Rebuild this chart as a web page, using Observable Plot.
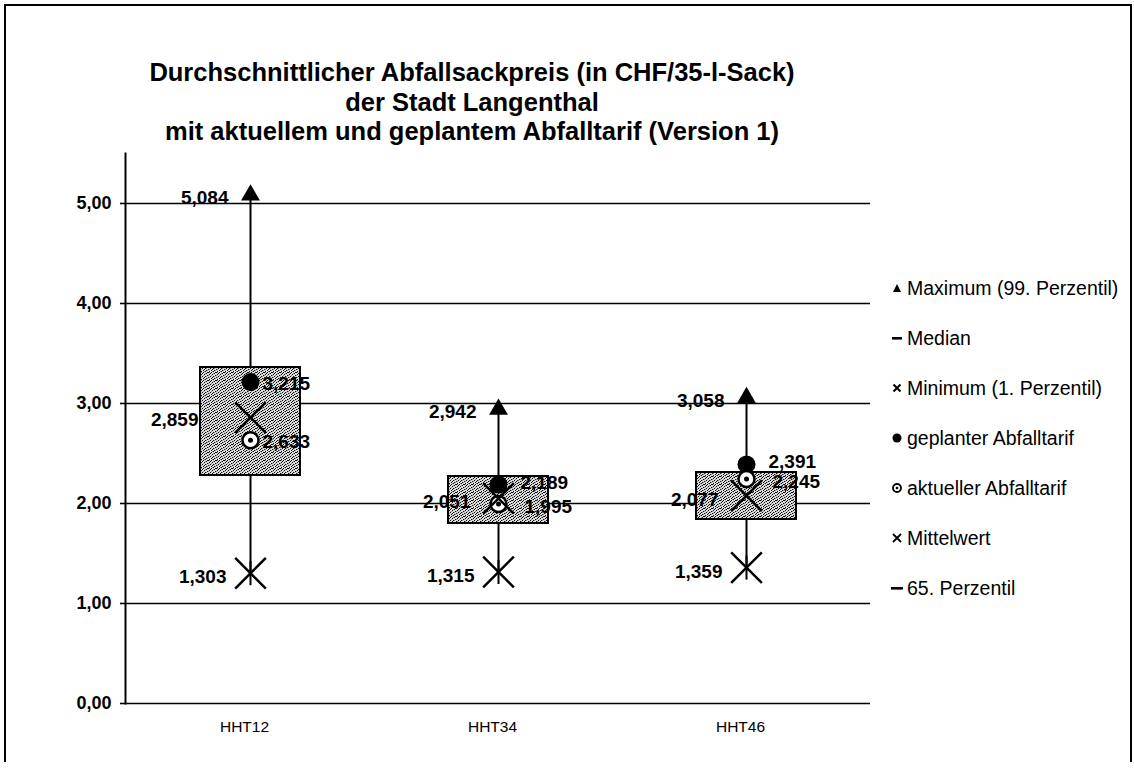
<!DOCTYPE html>
<html><head><meta charset="utf-8">
<script src="https://cdn.jsdelivr.net/npm/d3@7"></script>
<script src="https://cdn.jsdelivr.net/npm/@observablehq/plot@0.6"></script>
<style>
body{margin:0;background:#fff;}
#wrap{position:relative;width:1134px;height:771px;overflow:hidden;font-family:"Liberation Sans",Arial,sans-serif;color:#000;background:#fff;}
#frame{position:absolute;left:4px;top:4px;width:1128px;height:758px;border:2px solid #000;border-bottom:none;box-sizing:border-box;}
#title{position:absolute;left:0;top:58px;width:944px;text-align:center;font-weight:bold;font-size:25.5px;line-height:29.5px;}
#chart{position:absolute;left:0;top:140px;}
#legend{position:absolute;left:891px;top:263px;font-size:19.5px;}
.row{height:50px;display:flex;align-items:center;white-space:nowrap;}
.row svg{width:12px;height:14px;margin-right:4px;flex:none;}
</style></head><body>
<div id="wrap">
  <div id="frame"></div>
  <div id="title"></div>
  <div id="chart"></div>
  <div id="legend"></div>
</div>
<script>
// ---- data ----
const titleLines = [
  "Durchschnittlicher Abfallsackpreis (in CHF/35-l-Sack)",
  "der Stadt Langenthal",
  "mit aktuellem und geplantem Abfalltarif (Version 1)"
];
const categories = ["HHT12", "HHT34", "HHT46"];
const maximum = [5.084, 2.942, 3.058];   // 99. Perzentil
const minimum = [1.303, 1.315, 1.359];   // 1. Perzentil
const mean    = [2.859, 2.051, 2.077];   // Mittelwert
const planned = [3.215, 2.189, 2.391];   // geplanter Abfalltarif
const current = [2.633, 1.995, 2.245];   // aktueller Abfalltarif
const median  = [2.28, 1.80, 1.84];      // Median (box bottom)
const p65     = [3.36, 2.27, 2.31];      // 65. Perzentil (box top)
const yTicks  = [0, 1, 2, 3, 4, 5];
const legendItems = [
  {key: "max", label: "Maximum (99. Perzentil)"},
  {key: "median", label: "Median"},
  {key: "min", label: "Minimum (1. Perzentil)"},
  {key: "planned", label: "geplanter Abfalltarif"},
  {key: "current", label: "aktueller Abfalltarif"},
  {key: "mean", label: "Mittelwert"},
  {key: "p65", label: "65. Perzentil"}
];

// ---- table ----
const rows = categories.map((cat, i) => ({
  cat, max: maximum[i], min: minimum[i], mean: mean[i],
  planned: planned[i], current: current[i], median: median[i], p65: p65[i]
}));
const fmt = v => v.toFixed(3).replace(".", ",");
const first = d => d.cat === categories[0];
const notFirst = d => d.cat !== categories[0];

const vline = {draw(ctx, size) { const r = Math.sqrt(size / Math.PI); ctx.moveTo(0, -r); ctx.lineTo(0, r); }};

const lab = (key, opts) => Plot.text(rows, {
  x: "cat", y: key, text: d => fmt(d[key]),
  fontWeight: "bold", fontSize: 19, fill: "#000", ...opts
});

document.getElementById("title").innerHTML = titleLines.map(t => `<div>${t}</div>`).join("");

const chart = Plot.plot({
  width: 1134,
  height: 631,
  marginLeft: 125,
  marginRight: 264,
  marginTop: 13,
  marginBottom: 68,
  style: {fontFamily: "'Liberation Sans', Arial, sans-serif", color: "#000", background: "transparent", overflow: "visible"},
  x: {domain: categories, padding: 0},
  y: {domain: [0, 5.5]},
  marks: [
    Plot.ruleY(yTicks, {stroke: "#000", strokeWidth: 1.6}),
    Plot.frame({anchor: "left", stroke: "#000", strokeWidth: 2}),
    Plot.axisY({ticks: yTicks, tickFormat: d => d.toFixed(2).replace(".", ","), tickSize: 5, tickPadding: 9,
      fontSize: 18, fontWeight: "bold", label: null, strokeWidth: 1.6}),
    Plot.axisX({tickSize: 0, tickPadding: 17, fontSize: 15.5, label: null, dx: -6}),
    Plot.ruleX(rows, {x: "cat", y1: "min", y2: "max", stroke: "#000", strokeWidth: 2}),
    Plot.barY(rows, {x: "cat", y1: "median", y2: "p65", fill: "url(#stipple)", stroke: "#000", strokeWidth: 2, insetLeft: 74, insetRight: 74}),
    Plot.dot(rows, {x: "cat", y: "max", symbol: "triangle", r: 7, fill: "#000", stroke: "none"}),
    Plot.dot(rows, {x: "cat", y: "min", symbol: "times", r: 14, stroke: "#000", strokeWidth: 2.5}),
    Plot.dot(rows, {x: "cat", y: "min", symbol: vline, r: 12, stroke: "#000", strokeWidth: 2}),
    Plot.dot(rows, {x: "cat", y: "planned", r: 9, fill: "#000", stroke: "none"}),
    Plot.dot(rows, {x: "cat", y: "current", r: 8, fill: "#fff", stroke: "#000", strokeWidth: 2.5}),
    Plot.dot(rows, {x: "cat", y: "current", r: 2.5, fill: "#000", stroke: "none"}),
    Plot.dot(rows, {x: "cat", y: "mean", symbol: "times", r: 14, stroke: "#000", strokeWidth: 2.5}),
    lab("max", {textAnchor: "end", dx: -22, dy: 3}),
    lab("min", {textAnchor: "end", dx: -24, dy: 4}),
    lab("mean", {filter: first, textAnchor: "end", dx: -52, dy: 2}),
    lab("mean", {filter: notFirst, textAnchor: "end", dx: -28, dy: 4}),
    lab("planned", {filter: first, textAnchor: "start", dx: 12, dy: 2}),
    lab("planned", {filter: notFirst, textAnchor: "start", dx: 22, dy: -2}),
    lab("current", {filter: first, textAnchor: "start", dx: 12, dy: 2}),
    lab("current", {filter: notFirst, textAnchor: "start", dx: 26, dy: 3})
  ]
});

// stippled texture for the boxes
const dots = [[0,0],[3,0],[6,1],[1,2],[4,2],[7,3],[2,4],[5,4],[0,5],[4,5],[3,6],[6,6],[1,7],[5,7],[7,0],[2,1]];
const greys = [[1,0],[5,1],[3,3],[6,4],[1,5],[7,6],[4,7],[0,3]];
d3.select(chart).insert("defs", ":first-child").html(
  `<pattern id="stipple" patternUnits="userSpaceOnUse" width="8" height="8">
     <rect width="8" height="8" fill="#dadada"/>
     ${dots.map(([x, y]) => `<rect x="${x}" y="${y}" width="1" height="1" fill="#111"/>`).join("")}
     ${greys.map(([x, y]) => `<rect x="${x}" y="${y}" width="1" height="1" fill="#888"/>`).join("")}
   </pattern>`
);
document.getElementById("chart").append(chart);

// legend
const markerSvg = {
  max: `<polygon points="6,3 10,11 2,11" fill="#000"/>`,
  median: `<rect x="1" y="6" width="10" height="2.6" fill="#000"/>`,
  min: `<path d="M2.5,3.5L9.5,10.5M9.5,3.5L2.5,10.5" stroke="#000" stroke-width="2"/>`,
  planned: `<circle cx="6" cy="7" r="4.5" fill="#000"/>`,
  current: `<circle cx="6" cy="7" r="4" fill="#fff" stroke="#000" stroke-width="1.8"/><circle cx="6" cy="7" r="1.3" fill="#000"/>`,
  mean: `<path d="M2,3L10,11M10,3L2,11" stroke="#000" stroke-width="1.8"/>`,
  p65: `<rect x="0" y="6" width="12" height="2.6" fill="#000"/>`
};
d3.select("#legend").selectAll("div").data(legendItems).join("div")
  .attr("class", "row")
  .html(d => `<svg viewBox="0 0 12 14">${markerSvg[d.key]}</svg><span>${d.label}</span>`);
</script>
</body></html>
